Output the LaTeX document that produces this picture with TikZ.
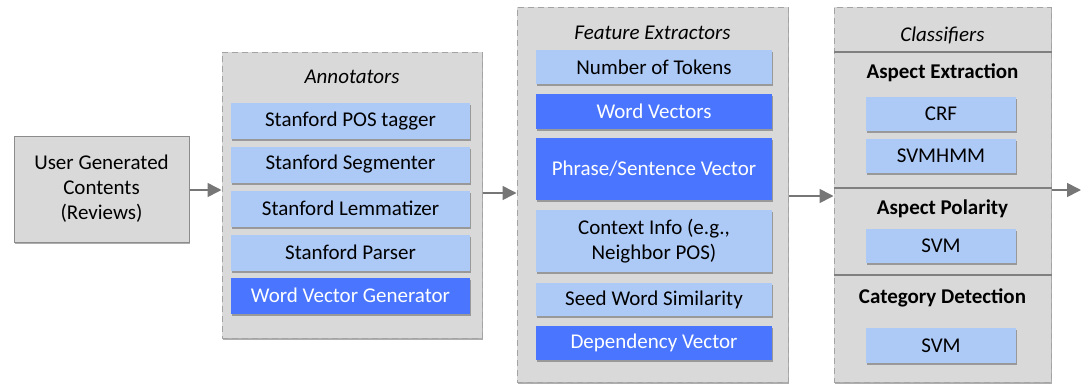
\documentclass[tikz,border=0pt]{standalone}
\usepackage{fontspec}
\setmainfont{Carlito}
\usetikzlibrary{shadows,arrows.meta}
\definecolor{lightb}{HTML}{ADC9F6}
\definecolor{darkb}{HTML}{4A76FF}
\definecolor{contg}{HTML}{D9D9D9}
\definecolor{dashg}{HTML}{A3A3A3}
\definecolor{arrg}{HTML}{767676}
\tikzset{
  base/.style={inner sep=0pt, align=center, font=\fontsize{21}{25}\selectfont},
  shd/.style={drop shadow={shadow xshift=1.2pt, shadow yshift=-2.2pt, opacity=0.45, fill=black!70}},
  lbox/.style={base, fill=lightb, text=black, shd},
  dbox/.style={base, fill=darkb, text=white, shd},
  container/.style={fill=contg, draw=dashg, line width=1pt, dash pattern=on 6pt off 4pt, shd, inner sep=0pt},
  ugc/.style={base, fill=contg, draw=black!45, line width=1pt, shd},
  title/.style={base, font=\fontsize{21}{25}\selectfont\itshape},
  heading/.style={base, font=\fontsize{21}{25}\selectfont\bfseries},
  divider/.style={draw=black!50, line width=1.3pt},
  flow/.style={draw=arrg, line width=1.6pt, -{Triangle[length=14pt,width=14pt]}}
}
\begin{document}
\begin{tikzpicture}[x=1pt,y=-1pt]
\useasboundingbox (0,0) rectangle (1081,386);
% user box
\node[ugc, minimum width=175pt, minimum height=106pt] (ugc) at (101.5,189) {User Generated\\Contents\\(Reviews)};
% containers
\node[container, minimum width=260pt, minimum height=286pt] (ann) at (352,195) {};
\node[container, minimum width=271pt, minimum height=375pt] (fe) at (652.5,194.5) {};
\node[container, minimum width=217pt, minimum height=375pt] (cl) at (942.5,194.5) {};
% annotators
\node[title] (annt) at (352,77) {Annotators};
\node[lbox, minimum width=239pt, minimum height=36pt] (a1) at (350.5,121) {Stanford POS tagger};
\node[lbox, minimum width=239pt, minimum height=36pt] (a2) at (350.5,164.5) {Stanford Segmenter};
\node[lbox, minimum width=239pt, minimum height=36pt] (a3) at (350.5,208.5) {Stanford Lemmatizer};
\node[lbox, minimum width=239pt, minimum height=36pt] (a4) at (350.5,252.5) {Stanford Parser};
\node[dbox, minimum width=239pt, minimum height=36pt] (a5) at (350.5,295.5) {Word Vector Generator};
% feature extractors
\node[title] (fet) at (652.5,33) {Feature Extractors};
\node[lbox, minimum width=236pt, minimum height=34pt] (f1) at (654,67) {Number of Tokens};
\node[dbox, minimum width=236pt, minimum height=35pt] (f2) at (654,111.5) {Word Vectors};
\node[dbox, minimum width=236pt, minimum height=62pt] (f3) at (654,169) {Phrase/Sentence Vector};
\node[lbox, minimum width=236pt, minimum height=62pt] (f4) at (654,241) {Context Info (e.g.,\\Neighbor POS)};
\node[lbox, minimum width=236pt, minimum height=33pt] (f5) at (654,299.5) {Seed Word Similarity};
\node[dbox, minimum width=236pt, minimum height=34pt] (f6) at (654,343) {Dependency Vector};
% classifiers
\node[title] (clt) at (942.5,35) {Classifiers};
\coordinate (d1) at (942.5,52);
\coordinate (d2) at (942.5,188);
\coordinate (d3) at (942.5,275);
\draw[divider] (d1 -| cl.west) -- (d1 -| cl.east);
\draw[divider] (d2 -| cl.west) -- (d2 -| cl.east);
\draw[divider] (d3 -| cl.west) -- (d3 -| cl.east);
\node[heading] (h1) at (942.5,73) {Aspect Extraction};
\node[lbox, minimum width=150pt, minimum height=34pt] (c1) at (941,114) {CRF};
\node[lbox, minimum width=150pt, minimum height=34pt] (c2) at (941,156) {SVMHMM};
\node[heading] (h2) at (942.5,209) {Aspect Polarity};
\node[lbox, minimum width=150pt, minimum height=34pt] (c3) at (941,246) {SVM};
\node[heading] (h3) at (942.5,298) {Category Detection};
\node[lbox, minimum width=150pt, minimum height=35pt] (c4) at (941,345.5) {SVM};
% arrows
\coordinate (y1) at (0,190);
\coordinate (y2) at (0,193);
\coordinate (y3) at (0,196);
\coordinate (out) at (1081,190);
\draw[flow] (y1 -| ugc.east) -- (y1 -| ann.west);
\draw[flow] (y2 -| ann.east) -- (y2 -| fe.west);
\draw[flow] (y3 -| fe.east) -- (y3 -| cl.west);
\draw[flow] (out -| cl.east) -- (out);
\end{tikzpicture}
\end{document}
